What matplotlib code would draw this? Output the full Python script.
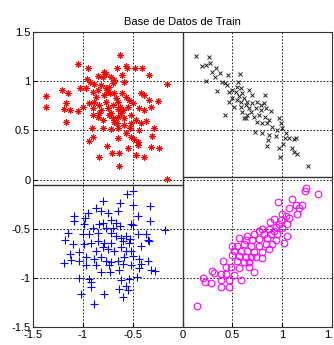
import numpy as np
import matplotlib.pyplot as plt

plt.rcParams['font.family'] = ['Liberation Sans', 'DejaVu Sans']

# points (pixel coords of the zoomed crops, converted below)
red_px = [(267,100),(142,128),(172,140),(258,140),(285,133),(288,140),(312,138),(333,138),
          (354,160),(220,150),(225,158),(200,162),(168,172),(178,180),(190,188),(210,190),
          (215,165),(240,165),(250,175),(272,160),(280,180),(408,188),(92,205),(110,215),
          (45,222),(45,257),(148,198),(165,200),(185,210),(200,205),(225,200),(235,195),
          (245,185),(230,210),(220,220),(250,215),(272,215),(285,225),(295,235),(330,215),
          (338,220),(355,235),(380,238),(105,245),(98,262),(118,265),(140,268),(155,255),
          (175,245),(190,240),(205,250),(185,260),(210,265),(230,260),(245,250),(262,240),
          (268,255),(275,265),(290,255),(305,245),(325,260),(338,265),(360,257),(105,300),
          (185,280),(200,285),(215,295),(235,280),(250,300),(262,285),(280,290),(300,280),
          (315,295),(330,305),(345,298),(183,318),(215,318),(240,322),(260,318),(298,320),
          (325,325),(370,318),(285,335),(300,345),(310,352),(320,360),(260,348),(185,345),
          (175,358),(362,342),(228,372),(292,380),(322,370),(360,375),(385,378),(242,393),
          (265,393),(315,400),(338,405),(205,405),(265,432),(408,473),(228,205),(238,215),
          (255,230),(260,262),(270,275),(245,290),(225,240),(195,225),(205,275),(258,305),
          (300,305),(280,310),(240,275)]

black_px = [(52,103),(90,107),(92,125),(68,133),(80,130),(112,140),(100,152),(122,155),
            (108,165),(148,160),(182,157),(82,177),(128,182),(138,185),(145,190),(178,180),
            (175,195),(185,200),(115,208),(150,210),(160,205),(170,212),(190,215),(210,205),
            (220,220),(258,220),(160,230),(175,235),(185,240),(195,228),(205,240),(220,245),
            (235,240),(245,250),(255,245),(165,255),(185,255),(210,258),(230,260),(245,265),
            (260,260),(275,268),(190,270),(205,280),(225,285),(240,280),(258,285),(270,295),
            (138,280),(195,290),(235,300),(248,305),(265,305),(300,290),(305,305),(280,315),
            (295,325),(310,320),(228,330),(250,335),(270,340),(290,342),(320,335),(318,350),
            (330,350),(345,352),(352,348),(268,355),(300,378),(312,368),(340,380),(345,392),
            (355,397),(265,373),(303,405),(388,432),(200,290),(215,270),(180,222),(150,240),
            (200,250)]

blue_px = [(305,27),(288,38),(215,57),(268,65),(305,70),(358,73),(195,80),(210,90),(230,95),
           (128,105),(130,120),(162,110),(172,95),(260,90),(322,105),(358,120),(240,115),
           (255,125),(268,135),(205,130),(215,125),(300,128),(305,132),(160,130),(185,140),
           (225,140),(245,140),(403,148),(110,155),(155,160),(175,160),(200,155),(240,155),
           (255,165),(270,170),(285,165),(298,175),(320,160),(345,158),(350,178),(103,178),
           (125,190),(160,190),(180,185),(200,180),(220,185),(240,185),(275,180),(295,185),
           (330,195),(355,180),(195,210),(215,200),(230,205),(250,210),(270,200),(285,212),
           (300,210),(117,220),(145,215),(120,238),(100,248),(145,242),(165,230),(190,235),
           (210,230),(225,240),(240,245),(260,240),(280,230),(305,225),(325,235),(330,250),
           (350,240),(165,255),(195,255),(235,255),(275,250),(300,255),(325,262),(360,270),
           (372,272),(210,275),(238,275),(265,270),(145,292),(175,295),(180,305),(270,298),
           (295,295),(318,290),(180,320),(265,328),(285,318),(290,330),(275,350),(150,343),
           (220,343),(188,373)]

magenta_px = [(380,20),(378,28),(418,37),(340,52),(298,62),(368,72),(350,72),(360,80),
              (330,80),(355,98),(310,98),(320,105),(285,112),(305,115),(272,122),(330,110),
              (300,130),(290,138),(310,140),(325,130),(250,145),(270,145),(285,150),(240,150),
              (205,165),(225,160),(255,160),(275,160),(295,160),(180,172),(200,178),(220,178),
              (240,175),(265,170),(325,165),(315,185),(290,178),(175,195),(195,190),(215,195),
              (240,195),(260,190),(280,190),(160,195),(165,210),(185,210),(205,210),(225,215),
              (250,215),(270,205),(160,222),(180,225),(200,230),(215,230),(230,230),(250,232),
              (133,242),(175,240),(195,245),(210,245),(140,260),(155,260),(180,262),(210,260),
              (225,275),(98,272),(105,278),(125,282),(140,280),(165,285),(72,293),(78,305),
              (97,308),(125,300),(150,298),(185,298),(125,320),(150,320),(55,380)]

ticks = [-1.5, -1, -0.5, 0, 0.5, 1, 1.5]
tick_labels = ['-1.5', '-1', '-0.5', '0', '0.5', '1', '1.5']


def to_data(pts, x0, top):
    a = np.array(pts, dtype=float)
    x = (a[:, 0] - x0) / 299.0
    if top:
        y = (474 - a[:, 1]) / 295.0
    else:
        y = -(a[:, 1] + 7) / 300.0
    return x, y


rx, ry = to_data(red_px, 454.5, True)
kx, ky = to_data(black_px, 10.5, True)
bx, by = to_data(blue_px, 454.5, False)
mx, my = to_data(magenta_px, 10.5, False)

fig = plt.figure(figsize=(3.34, 3.45), dpi=100)
ax = fig.add_axes([0.099, 0.052, 0.895, 0.855])

ax.plot(rx, ry, ls='none', marker=(8, 2, 0), ms=4.5, mew=0.7, color='red')
ax.plot(kx, ky, ls='none', marker='x', ms=3, mew=0.7, color='#222222')
ax.plot(bx, by, ls='none', marker='+', ms=6, mew=0.8, color='blue')
ax.plot(mx, my, ls='none', marker='o', ms=4.8, mew=0.8, color='magenta', mfc='none')

ax.axvline(0, color='#333333', lw=1)
ax.plot([-1.5, 0], [-0.055, -0.055], color='#333333', lw=1)
ax.plot([0, 1.5], [0.025, 0.025], color='#333333', lw=1)

ax.set_xlim(-1.5, 1.5)
ax.set_ylim(-1.5, 1.5)
ax.set_xticks(ticks)
ax.set_xticklabels(tick_labels)
ax.set_yticks(ticks)
ax.set_yticklabels(tick_labels)
ax.tick_params(direction='in', length=3, labelsize=8, pad=2)
ax.grid(True, color='black', ls=(0, (2, 2)), lw=0.6)
for s in ax.spines.values():
    s.set_linewidth(0.8)
    s.set_color('#333333')

ax.set_title('Base de Datos de Train', fontsize=8, pad=5)

plt.savefig('out.png', dpi=100)
